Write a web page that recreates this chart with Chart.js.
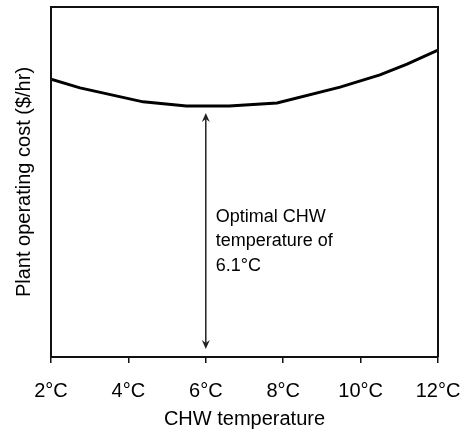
<!DOCTYPE html>
<html>
<head>
<meta charset="utf-8">
<script src="https://cdn.jsdelivr.net/npm/chart.js@4.4.1/dist/chart.umd.min.js"></script>
<style>
  html, body { margin: 0; padding: 0; background: #fff; }
  #wrap { width: 462px; height: 432px; position: relative; }
</style>
</head>
<body>
<div id="wrap"><canvas id="c" width="462" height="432"></canvas></div>
<script>
// ---- data ----
const temps = [2.0, 2.75, 4.38, 5.5, 6.6, 7.84, 9.47, 10.5, 11.2, 12.0];      // CHW temperature (°C)
const costs = [79.4, 76.9, 72.9, 71.7, 71.7, 72.6, 77.1, 80.6, 83.7, 87.7];    // relative plant operating cost
const tickValues = [2, 4, 6, 8, 10, 12];
const tickLabels = ['2°C', '4°C', '6°C', '8°C', '10°C', '12°C'];
const arrowTemp = [6, 6];            // arrow at optimal temperature
const arrowCost = [69.7, 2.3];       // arrow top / bottom (cost units)
const noteLines = ['Optimal CHW', 'temperature of', '6.1°C'];
const xTitle = 'CHW temperature';
const yTitle = 'Plant operating cost ($/hr)';

const FONT = "'Liberation Sans', Arial, sans-serif";
const INK = '#000';

const framePlugin = {
  id: 'frame',
  afterDraw(chart) {
    const { ctx, chartArea: a, scales } = chart;
    ctx.save();
    ctx.strokeStyle = '#111';
    ctx.lineWidth = 2;
    ctx.beginPath();
    ctx.moveTo(a.left, a.bottom);
    ctx.lineTo(a.left, a.top);
    ctx.lineTo(a.right, a.top);
    ctx.lineTo(a.right, a.bottom);
    ctx.stroke();

    // double-headed arrow
    const x = scales.x.getPixelForValue(arrowTemp[0]);
    const y1 = scales.y.getPixelForValue(arrowCost[0]);
    const y2 = scales.y.getPixelForValue(arrowCost[1]);
    ctx.strokeStyle = '#222';
    ctx.fillStyle = '#222';
    ctx.lineWidth = 1.5;
    ctx.beginPath();
    ctx.moveTo(x, y1 + 3);
    ctx.lineTo(x, y2 - 3);
    ctx.stroke();
    const head = (tipY, dir) => {
      ctx.beginPath();
      ctx.moveTo(x, tipY);
      ctx.lineTo(x - 4, tipY + dir * 9);
      ctx.lineTo(x, tipY + dir * 6);
      ctx.lineTo(x + 4, tipY + dir * 9);
      ctx.closePath();
      ctx.fill();
    };
    head(y1, 1);
    head(y2, -1);

    // annotation text
    ctx.fillStyle = INK;
    ctx.font = '18px ' + FONT;
    ctx.textAlign = 'left';
    ctx.textBaseline = 'middle';
    const ty = scales.y.getPixelForValue(40);
    noteLines.forEach((t, i) => ctx.fillText(t, x + 10, ty + i * 24.5));
    ctx.restore();
  }
};

new Chart(document.getElementById('c'), {
  type: 'line',
  data: {
    datasets: [{
      data: temps.map((t, i) => ({ x: t, y: costs[i] })),
      borderColor: INK,
      borderWidth: 3,
      pointRadius: 0,
      tension: 0,
      fill: false
    }]
  },
  options: {
    responsive: false,
    animation: false,
    devicePixelRatio: 1,
    layout: { padding: { left: 0, right: 24, top: 7, bottom: 0 } },
    plugins: { legend: { display: false }, tooltip: { enabled: false } },
    scales: {
      x: {
        type: 'linear',
        min: 2, max: 12,
        afterBuildTicks(s) { s.ticks = tickValues.map(v => ({ value: v })); },
        afterFit(s) { s.height = 75; s.paddingLeft = 0; s.paddingRight = 0; },
        border: { display: true, color: '#111', width: 2 },
        grid: { display: true, drawOnChartArea: false, drawTicks: true, tickLength: 6, color: '#111', lineWidth: 1.5 },
        ticks: {
          color: INK, padding: 16,
          font: { family: FONT, size: 20 },
          callback: (v) => tickLabels[tickValues.indexOf(v)],
          maxRotation: 0
        },
        title: { display: true, text: xTitle, color: INK, font: { family: FONT, size: 20 }, padding: { top: 0, bottom: 1 } }
      },
      y: {
        min: 0, max: 100,
        afterFit(s) { s.width = 51; s.paddingTop = 0; s.paddingBottom = 0; },
        border: { display: true, color: '#111', width: 2 },
        grid: { display: false },
        ticks: { display: false },
        title: { display: true, text: yTitle, color: INK, font: { family: FONT, size: 20 }, padding: { top: 12, bottom: 0 } }
      }
    }
  },
  plugins: [framePlugin]
});
</script>
</body>
</html>
